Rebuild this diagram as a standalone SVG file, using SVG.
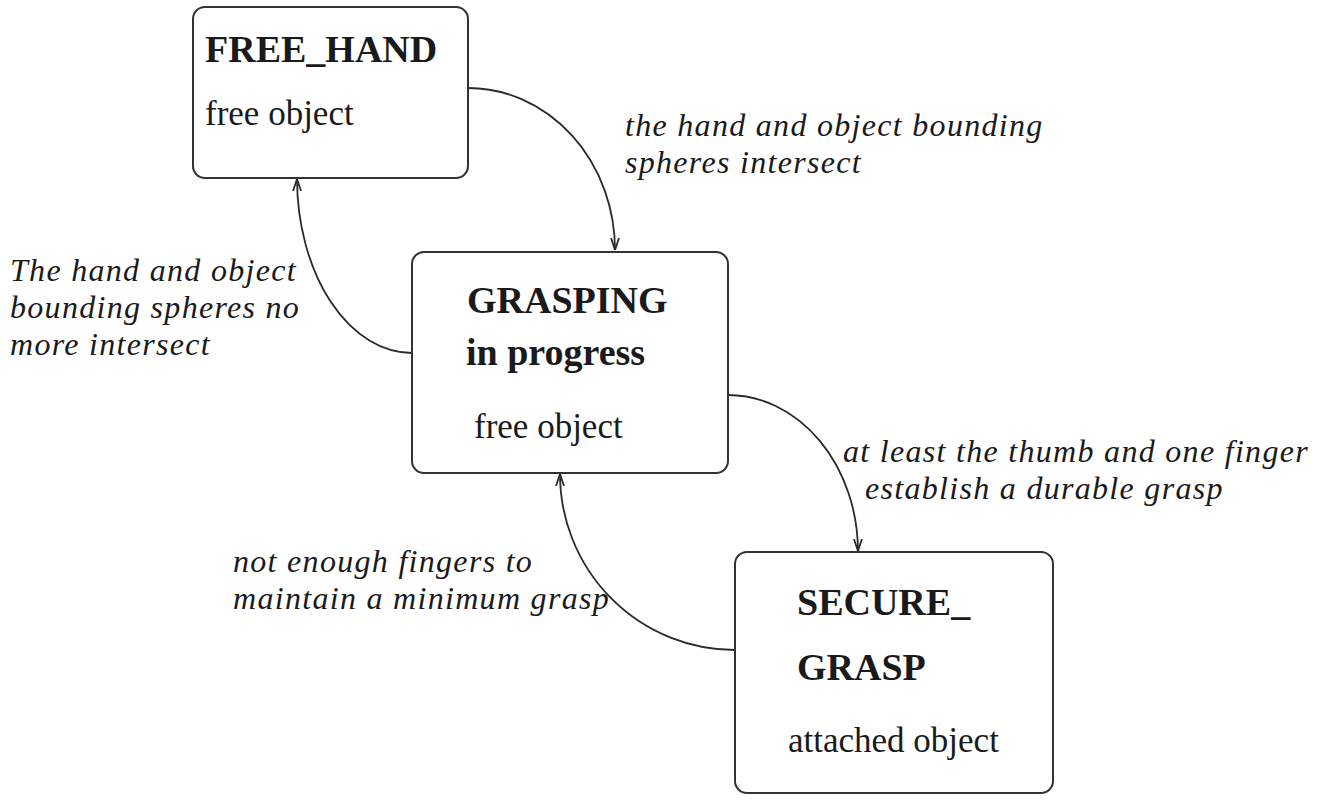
<svg xmlns="http://www.w3.org/2000/svg" width="1327" height="800" viewBox="0 0 1327 800">
<style>
.box{fill:#fff;stroke:#333;stroke-width:2}
.title{font-family:"Liberation Serif",serif;font-weight:bold;font-size:38px;fill:#1a1a1a}
.sub{font-family:"Liberation Serif",serif;font-size:35px;fill:#1a1a1a}
.lbl{font-family:"Liberation Serif",serif;font-style:italic;font-size:32px;letter-spacing:1.3px;fill:#1a1a1a}
.edge{fill:none;stroke:#2a2a2a;stroke-width:1.8;marker-end:url(#arr)}
</style>
<defs>
<marker id="arr" viewBox="0 0 12 10" refX="12" refY="5" markerWidth="12" markerHeight="10" markerUnits="userSpaceOnUse" orient="auto">
<polyline points="0,1 12,5 0,9" fill="none" stroke="#2a2a2a" stroke-width="1.8"/>
</marker>
</defs>
<rect width="1327" height="800" fill="#fff"/>
<g id="connectors">
<path class="edge" d="M468,88 A147,162 0 0 1 615,250"/>
<path class="edge" d="M412,353 A115,175 0 0 1 297,179"/>
<path class="edge" d="M728,395 A130,157 0 0 1 858,551"/>
<path class="edge" d="M735,650 A175,176 0 0 1 560,474"/>
</g>
<g id="free_hand">
<rect class="box" x="193" y="7" width="275" height="171" rx="12"/>
<text class="title" x="205" y="62">FREE_HAND</text>
<text class="sub" x="205" y="125">free object</text>
</g>
<g id="grasping">
<rect class="box" x="412" y="252" width="316" height="221" rx="12"/>
<text class="title" x="467" y="313">GRASPING</text>
<text class="title" x="466" y="365">in progress</text>
<text class="sub" x="474" y="438">free object</text>
</g>
<g id="secure_grasp">
<rect class="box" x="735" y="552" width="318" height="241" rx="12"/>
<text class="title" x="797" y="615">SECURE_</text>
<text class="title" x="797" y="680">GRASP</text>
<text class="sub" x="788" y="752">attached object</text>
</g>
<g id="labels">
<text class="lbl" x="625" y="136">the hand and object bounding</text>
<text class="lbl" x="625" y="173">spheres intersect</text>
<text class="lbl" x="10" y="281">The hand and object</text>
<text class="lbl" x="10" y="318">bounding spheres no</text>
<text class="lbl" x="10" y="355">more intersect</text>
<text class="lbl" x="843" y="462">at least the thumb and one finger</text>
<text class="lbl" x="865" y="499">establish a durable grasp</text>
<text class="lbl" x="233" y="572">not enough fingers to</text>
<text class="lbl" x="233" y="609">maintain a minimum grasp</text>
</g>
</svg>
